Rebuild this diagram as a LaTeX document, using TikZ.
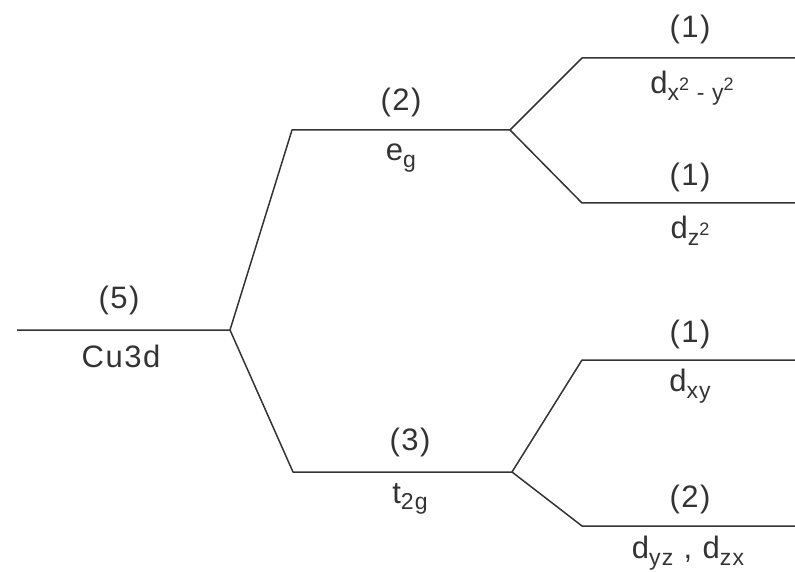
\documentclass[tikz,border=0pt]{standalone}
\usepackage{fontspec}
\setmainfont{Liberation Sans}[LetterSpace=5]
\newcommand\lowsub[1]{\raisebox{-0.4ex}{\fontsize{23}{23}\selectfont #1}}
\newcommand\hisup[1]{\raisebox{0.8ex}{\fontsize{18}{18}\selectfont #1}}
\begin{document}
\begin{tikzpicture}[x=1pt,y=-1pt,
  lvl/.style={draw=black!80,line width=1.5pt,line join=round},
  lab/.style={font=\fontsize{31}{35}\selectfont,text=black!80,inner sep=0pt}]
\useasboundingbox (0,0) rectangle (795,572);
\coordinate (cuL) at (17,330);
\coordinate (cuJ) at (230,330);
\coordinate (egL) at (292,130);
\coordinate (egJ) at (510,130);
\coordinate (tL) at (293,472);
\coordinate (tJ) at (512,472);
\coordinate (a1) at (582,58);  \coordinate (a2) at (795,58);
\coordinate (b1) at (582,203); \coordinate (b2) at (795,203);
\coordinate (c1) at (582,360); \coordinate (c2) at (795,360);
\coordinate (d1) at (582,526); \coordinate (d2) at (795,526);
\draw[lvl] (cuL) -- (cuJ) -- (egL) -- (egJ) -- (a1) -- (a2);
\draw[lvl] (egJ) -- (b1) -- (b2);
\draw[lvl] (cuJ) -- (tL) -- (tJ) -- (c1) -- (c2);
\draw[lvl] (tJ) -- (d1) -- (d2);
\node[lab] (n5) at (119,300) {(5)};
\node[lab] (cu) at (121,356) {Cu3d};
\node[lab] (n2) at (401,102) {(2)};
\node[lab] (eg) at (401,158) {e\lowsub{g}};
\node[lab] (n3) at (410,442) {(3)};
\node[lab] (t2g) at (410,499) {t\lowsub{2g}};
\node[lab] (na) at (690,29) {(1)};
\node[lab] (da) at (692,88) {d\lowsub{x\hisup{2}\,\,-\,\,y\hisup{2}}};
\node[lab] (nb) at (690,177) {(1)};
\node[lab] (db) at (690,231) {d\lowsub{z\hisup{2}}};
\node[lab] (nc) at (690,334) {(1)};
\node[lab] (dc) at (690,386) {d\lowsub{xy}};
\node[lab] (nd) at (690,499) {(2)};
\node[lab] (dd) at (688,553) {d\lowsub{yz}\,\,,\,\,d\lowsub{zx}};
\end{tikzpicture}
\end{document}
